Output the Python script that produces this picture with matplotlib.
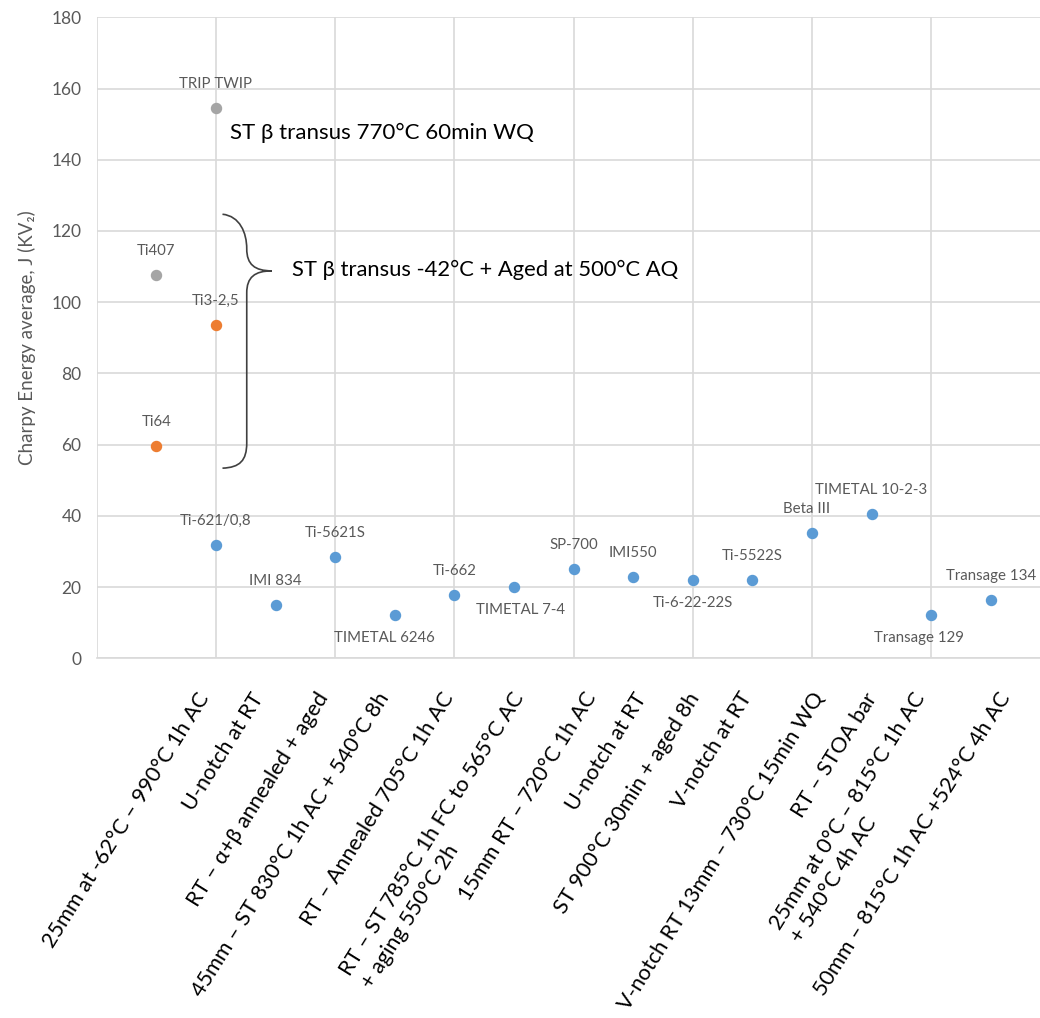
import matplotlib
matplotlib.use("Agg")
import matplotlib.pyplot as plt
from matplotlib.path import Path
from matplotlib.patches import PathPatch
from matplotlib.transforms import blended_transform_factory

plt.rcParams["font.family"] = ["Lato", "DejaVu Sans"]

# series (x position, Charpy energy, label)
gray_x = [1, 2]
gray_y = [107.6, 154.4]
gray_names = ["Ti407", "TRIP TWIP"]

orange_x = [1, 2]
orange_y = [59.7, 93.6]
orange_names = ["Ti64", "Ti3-2,5"]

blue_x = [2, 3, 4, 5, 6, 7, 8, 9, 10, 11, 12, 13, 14, 15]
blue_y = [31.8, 15.0, 28.5, 12.2, 17.8, 19.9, 25.0, 22.8, 22.0, 22.0, 35.2, 40.6, 12.1, 16.3]
blue_names = ["Ti-621/0,8", "IMI 834", "Ti-5621S", "TIMETAL 6246", "Ti-662",
              "TIMETAL 7-4", "SP-700", "IMI550", "Ti-6-22-22S", "Ti-5522S",
              "Beta III", "TIMETAL 10-2-3", "Transage 129", "Transage 134"]

conditions = [
    "25mm at -62°C – 990°C 1h AC",
    "U-notch at RT",
    "RT – α+β annealed + aged",
    "45mm – ST 830°C 1h AC + 540°C 8h",
    "RT – Annealed 705°C 1h AC",
    "RT – ST 785°C 1h FC to 565°C AC\n+ aging 550°C 2h",
    "15mm RT – 720°C 1h AC",
    "U-notch at RT",
    "ST 900°C 30min + aged 8h",
    "V-notch at RT",
    "V-notch RT 13mm – 730°C 15min WQ",
    "RT – STOA bar",
    "25mm at 0°C – 815°C 1h AC\n+ 540°C 4h AC",
    "50mm – 815°C 1h AC +524°C 4h AC",
]

# layout: where each rotated condition label ends (x units) and label offsets (px)
cond_x = [1.67, 2.58, 3.67, 4.69, 5.77, 6.96, 8.17, 9.01, 9.89, 10.78, 11.99, 12.88, 13.68, 15.11]
below = {"TIMETAL 6246": -10, "TIMETAL 7-4": 7, "Ti-6-22-22S": 0, "Transage 129": -12}
shift_x = {"Beta III": -5}

GRID = "#d9d9d9"
TXT = "#595959"

fig = plt.figure(figsize=(10.4, 10.18), dpi=100)
ax = fig.add_axes([0.093, 0.3533, 0.917, 0.6297])

ax.set_xlim(0, 16)
ax.set_ylim(0, 180)
ax.set_xticks(range(0, 17, 2))
ax.set_yticks(range(0, 181, 20))
ax.set_xticklabels([])
ax.grid(True, color=GRID, lw=1.2)
ax.set_axisbelow(True)
for s in ["top", "right", "left"]:
    ax.spines[s].set_visible(False)
ax.spines["bottom"].set_color(GRID)
ax.spines["bottom"].set_linewidth(1.2)
ax.tick_params(axis="both", length=0)
ax.tick_params(axis="y", labelsize=12.5, labelcolor=TXT, pad=11)
ax.set_ylabel("Charpy Energy average, J (KV₂)", fontsize=13.5, color=TXT, labelpad=11)

ax.scatter(blue_x, blue_y, s=52, color="#5b9bd5", zorder=3)
ax.scatter(orange_x, orange_y, s=52, color="#ed7d31", zorder=3)
ax.scatter(gray_x, gray_y, s=52, color="#a5a5a5", zorder=3)

for xs, ys, names in [(blue_x, blue_y, blue_names), (orange_x, orange_y, orange_names),
                      (gray_x, gray_y, gray_names)]:
    for x, y, n in zip(xs, ys, names):
        if n in below:
            dx, dy = below[n], -23
        else:
            dx, dy = shift_x.get(n, 0), 24
        ax.annotate(n, (x, y), xytext=(dx, dy), textcoords="offset pixels",
                    ha="center", va="center", fontsize=10.8, color=TXT)

# rotated condition labels under the axis
trans = blended_transform_factory(ax.transData, ax.transAxes)
for x, c in zip(cond_x, conditions):
    ax.text(x, -0.048, c, transform=trans, rotation=58, rotation_mode="anchor",
            ha="right", va="top", multialignment="left", fontsize=15.6,
            linespacing=1.3, color="black", clip_on=False)

# group notes
ax.text(2.24, 147.5, "ST β transus 770°C 60min WQ", fontsize=16, va="center", color="black")
ax.text(3.28, 109.1, "ST β transus -42°C + Aged at 500°C AQ", fontsize=15.8, va="center",
        color="black")

verts = [(2.11, 124.7),
         (2.40, 124.2), (2.517, 119.5), (2.517, 115.0),
         (2.517, 110.6), (2.65, 108.8), (2.94, 108.8),
         (2.65, 108.8), (2.517, 107.0), (2.517, 102.6),
         (2.517, 60.5),
         (2.517, 55.5), (2.40, 53.6), (2.11, 53.4)]
codes = [Path.MOVETO] + [Path.CURVE4] * 9 + [Path.LINETO] + [Path.CURVE4] * 3
ax.add_patch(PathPatch(Path(verts, codes), fill=False, edgecolor="#404040", lw=1.2, zorder=2))

fig.savefig("out.png", dpi=100)
